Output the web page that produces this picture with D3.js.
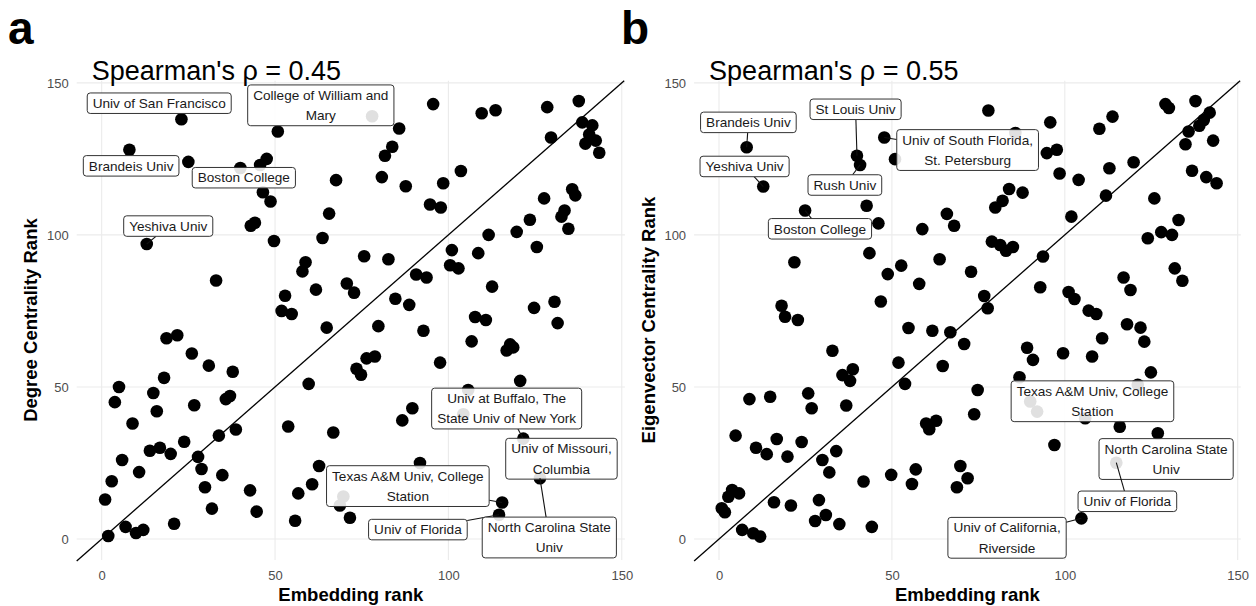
<!DOCTYPE html>
<html><head><meta charset="utf-8">
<script src="https://cdn.jsdelivr.net/npm/d3@7"></script>
<style>html,body{margin:0;padding:0;background:#fff;}svg{display:block;font-family:"Liberation Sans",Arial,Helvetica,sans-serif;}</style>
</head><body>
<svg id="chart" width="1256" height="606"></svg>
<script>
// ---- Panel a: Embedding rank vs Degree Centrality Rank ----
const embRankA = [
 23,8,25,40,45.7,47.6,46.5,48.7,43,44.2,
 13,33,78,95.6,50.8,85.8,83.8,81.7,80.8,87.7,
 98.5,67.6,94.7,97.8,65.6,63.7,49.7,101,100.5,102.9,
 75.7,82.7,58.8,57.9,90.7,93.7,61.8,70.7,72.8,52.9,
 51.9,54.8,84.7,88.7,64.9,79.8,92.8,109.6,113.6,128.5,
 137.6,138.6,141.5,140.6,142.5,139.5,143.5,129.6,103.6,135.7,
 136.6,127.6,123.5,133.5,132.6,134.6,119.7,111.6,125.5,108.6,
 112.6,124.7,130.6,107.7,110.8,131.5,106.7,117.8,116.8,118.7,
 97.6,120.7,105.7,104.3,121.6,126.4,115.5,114.6,76.4,78.8,
 73.5,74.8,59.7,89.6,86.7,53.8,66.8,91.8,62.7,60.7,
 56.7,69.7,68.7,71.6,55.8,42.8,44.7,18.7,21.8,26,
 30.9,37.8,5,3.8,18,14.9,15.9,35.8,37,26.7,
 8.9,38.7,33.8,23.8,13.9,16.8,19.9,27.8,28.8,34.8,
 5.9,10.8,29.8,2.9,31.8,1,1.9,6.9,9.9,12,
 20.9];
const degreeRank = [
 138,128,124,122,123,125,114,111,103,104,
 97,85,139,143,134,135,129,126,119,116,
 117,118,110,109,107,99,98,95,90,89,
 93,92,91,88,87,86,82,84,81,80,
 75,74,79,77,69.5,70,68.5,140,141,142,
 144,137,136,133,131,130,127,132,121,115,
 113,112,105,108,106,102,101,100,96,94,
 83,76,78,73,72,71,65,64,62,63,
 58,52,49,41,33,20,12,8,59.4,60,
 56,54,51,43,39,37,35,25,24,18,
 15,14,11,7,6,16,9,66,67,61,
 57,55,50,45,53,48,42,46,47,44,
 38,36,34,32,29,30,28,27,23,21,
 26,22,17,19,10,13,1,4,2,3,
 5];

// ---- Panel b: Embedding rank vs Eigenvector Centrality Rank ----
const embRankB = [
 8,12.8,39.9,40.8,24.9,42.7,43.5,21.8,18.1,19.1,
 22.8,77.9,95.8,47.8,50.9,85.7,94.8,97.7,98.5,46.1,
 83.9,87.8,82,79.9,65.9,68,58.8,78.9,81.3,83,
 85,52.7,48.8,63.8,72.9,93.7,92.9,57.9,46.8,76.7,
 77.7,54.8,61.7,66.9,129.1,130.1,137.8,141.9,140.2,138.9,
 135.8,134.9,142.9,136.8,140.9,143.9,113.8,110,104,112.9,
 119.9,111.9,101.9,125.9,132.9,124,127.9,131,131.8,134,
 117,119,101.1,102.8,106.9,109.1,118,121.9,110.8,123,
 99.5,107.9,124.9,121.1,105.9,115.9,126.9,97,114.9,104.8,
 70.9,51.9,64.7,53.8,89.1,90.8,86.9,74.8,73.8,59.9,
 62.8,60.8,90,92,41.8,49.8,56.9,55.8,69.8,71.9,
 68.8,44.2,32.8,35.7,38.7,37.9,8.8,14.8,25.8,26.8,
 36.8,4.8,10.7,13.8,16.7,19.8,23.9,29.9,31.9,33.9,
 3.8,2.7,5.8,0.8,1.7,15.9,20.8,28.9,27.8,30.9,
 34.8,6.7,9.9,11.9];
const eigenRank = [
 128.8,115.9,126,123,108,109.6,94,91,76.7,73.1,
 72,140.9,137,132,124.9,133.5,126.9,128,120.2,103.8,
 115.1,113.9,111.2,109,106.9,103,101.9,97.8,96.7,94.8,
 96,89.9,87.1,92,87.9,92.9,82.8,83.9,78.1,79.9,
 75.9,69.4,68.5,68,143,141.7,144,140.2,137.8,135.9,
 134,129.8,131,121.1,119,117,138.9,134.9,118.1,121.9,
 123.9,112.9,106,112,104.9,98.9,100.9,100,89,84.9,
 86,81.9,81.2,78.9,75.1,74,70.6,69.5,66,64.9,
 61.1,60,54.8,50.7,39.7,36.9,34.8,30.9,25.1,6.8,
 64.1,58,56.9,51,62.9,58.9,53.2,49,41,38,
 38.9,36.1,45.2,41.9,18.9,21.1,22.9,18.1,24,20,
 17,4,61.9,53.9,55.8,52,46,46.8,47.9,43,
 43.9,34,30,27.9,32.9,27.1,31.9,26,21.9,28.9,
 16.1,13.9,15,10.1,8.8,12.1,11,12.8,5.9,7.9,
 4.9,3,1.9,0.8];

// ---- Tick labels ----
const xTicks = [0, 50, 100, 150];
const yTicks = [0, 50, 100, 150];

// ---- Annotations (text, labelled point, label centre in data units) ----
const labelsA = [
 {text:["Univ of San Francisco"], px:23, py:138, lx:16.6, ly:143.3, seg:false},
 {text:["College of William and","Mary"], px:78, py:139, lx:63.2, ly:142.6, seg:false},
 {text:["Brandeis Univ"], px:8, py:128, lx:8.5, ly:122.7, seg:false},
 {text:["Boston College"], px:40, py:122, lx:41, ly:118.8, seg:false},
 {text:["Yeshiva Univ"], px:13, py:97, lx:19.2, ly:102.9, seg:true},
 {text:["Univ at Buffalo, The","State Univ of New York"], px:121.6, py:33, lx:116.8, ly:42.9, seg:true},
 {text:["Univ of Missouri,","Columbia"], px:122, py:31, lx:132.6, ly:26.4, seg:false},
 {text:["Texas A&M Univ, College","Station"], px:115.5, py:12, lx:88.3, ly:17.4, seg:true},
 {text:["Univ of Florida"], px:114.6, py:8, lx:91.2, ly:3.1, seg:true},
 {text:["North Carolina State","Univ"], px:126.4, py:20, lx:129.1, ly:0.5, seg:true}
];
const labelsB = [
 {text:["Brandeis Univ"], px:8, py:128.8, lx:8.5, ly:137, seg:true},
 {text:["Yeshiva Univ"], px:12.8, py:115.9, lx:7.4, ly:122.5, seg:true},
 {text:["St Louis Univ"], px:39.9, py:126, lx:39.5, ly:141.3, seg:true},
 {text:["Rush Univ"], px:40.8, py:123, lx:36.4, ly:116.4, seg:true},
 {text:["Boston College"], px:24.9, py:108, lx:29.2, ly:102, seg:true},
 {text:["Univ of South Florida,","St. Petersburg"], px:47.8, py:132, lx:71.9, ly:127.9, seg:true},
 {text:["Texas A&M Univ, College","Station"], px:92, py:41.9, lx:108, ly:45.3, seg:false},
 {text:["North Carolina State","Univ"], px:121.1, py:50.7, lx:129.3, ly:26.3, seg:false},
 {text:["Univ of Florida"], px:114.9, py:25.1, lx:118.1, ly:12.4, seg:true},
 {text:["Univ of California,","Riverside"], px:104.8, py:6.8, lx:83.3, ly:0.4, seg:true}
];

const svg = d3.select("#chart");
const dom = [-7.2, 150.9];

function drawPanel(cfg){
  const x = d3.scaleLinear().domain(dom).range(cfg.xr);
  const y = d3.scaleLinear().domain([-6.9, 150.7]).range([560, 80.7]);
  const g = svg.append("g");
  // grid
  g.selectAll(".gx").data(xTicks).join("line")
    .attr("x1", d=>x(d)).attr("x2", d=>x(d)).attr("y1", y.range()[0]).attr("y2", y.range()[1])
    .attr("stroke", "#ebebeb").attr("stroke-width", 1.1);
  g.selectAll(".gy").data(yTicks).join("line")
    .attr("y1", d=>y(d)).attr("y2", d=>y(d)).attr("x1", x.range()[0]).attr("x2", x.range()[1])
    .attr("stroke", "#ebebeb").attr("stroke-width", 1.1);
  // axes (text only)
  const xa = g.append("g").attr("transform", `translate(0,${y.range()[0]})`)
    .call(d3.axisBottom(x).tickValues(xTicks).tickSize(0).tickPadding(11));
  const ya = g.append("g").attr("transform", `translate(${x.range()[0]},0)`)
    .call(d3.axisLeft(y).tickValues(yTicks).tickSize(0).tickPadding(8));
  [xa, ya].forEach(a => {
    a.select(".domain").remove();
    a.selectAll("text").attr("fill", "#4d4d4d").attr("font-size", 13)
      .attr("font-family", "Liberation Sans, Arial, sans-serif");
  });
  // y = x line
  g.append("line")
    .attr("x1", x(dom[0])).attr("y1", y(dom[0]))
    .attr("x2", x(150.7)).attr("y2", y(150.7))
    .attr("stroke", "#000").attr("stroke-width", 1.3);
  // points
  g.selectAll("circle.pt").data(cfg.xs.map((v,i)=>[v, cfg.ys[i]])).join("circle")
    .attr("class","pt").attr("cx", d=>x(d[0])).attr("cy", d=>y(d[1])).attr("r", 6.3).attr("fill", "#000");
  // labels
  const lh = 20.3, pad = 5.5;
  cfg.labels.forEach(L => {
    const lg = g.append("g");
    const cx = x(L.lx), cy = y(L.ly);
    const h = lh * L.text.length + 0.2;
    const texts = L.text.map((t, i) => lg.append("text")
      .attr("x", cx).attr("y", cy - h/2 + 15 + i*lh)
      .attr("text-anchor", "middle").attr("font-size", 13.6).attr("fill", "#1a1a1a").text(t));
    const w = d3.max(texts, t => t.node().getComputedTextLength()) + 2*pad;
    if (L.seg) {
      const px = x(L.px), py = y(L.py);
      const dx = px - cx, dy = py - cy;
      const tx = dx !== 0 ? (w/2)/Math.abs(dx) : Infinity;
      const ty = dy !== 0 ? (h/2)/Math.abs(dy) : Infinity;
      const t = Math.min(tx, ty);
      lg.insert("line", ":first-child")
        .attr("x1", cx + dx*t).attr("y1", cy + dy*t).attr("x2", px).attr("y2", py)
        .attr("stroke", "#111").attr("stroke-width", 1.1);
    }
    lg.insert("rect", "text")
      .attr("x", cx - w/2).attr("y", cy - h/2).attr("width", w).attr("height", h)
      .attr("rx", 3).attr("ry", 3)
      .attr("fill", "#fff").attr("fill-opacity", 0.88)
      .attr("stroke", "#333").attr("stroke-width", 1);
  });
  // titles
  svg.append("text").attr("x", (cfg.xr[0]+cfg.xr[1])/2).attr("y", 601)
    .attr("text-anchor", "middle").attr("font-weight", "bold").attr("font-size", 18.5).text("Embedding rank");
  svg.append("text").attr("transform", `translate(${cfg.ytx},${y(72)}) rotate(-90)`)
    .attr("text-anchor", "middle").attr("font-weight", "bold").attr("font-size", 18.5).text(cfg.ytitle);
  svg.append("text").attr("x", cfg.xr[0] + 15).attr("y", 80)
    .attr("font-size", 27).attr("fill", "#000").text(cfg.rho);
  svg.append("text").attr("x", cfg.tagx).attr("y", 44)
    .attr("font-size", 46).attr("font-weight", "bold").text(cfg.tag);
}

drawPanel({xr:[76.7, 624.9], xs:embRankA, ys:degreeRank, labels:labelsA,
  ytitle:"Degree Centrality Rank", ytx:37, rho:"Spearman's \u03c1 = 0.45", tag:"a", tagx:8});
drawPanel({xr:[694.1, 1240.8], xs:embRankB, ys:eigenRank, labels:labelsB,
  ytitle:"Eigenvector Centrality Rank", ytx:655, rho:"Spearman's \u03c1 = 0.55", tag:"b", tagx:621});
</script>
</body></html>
